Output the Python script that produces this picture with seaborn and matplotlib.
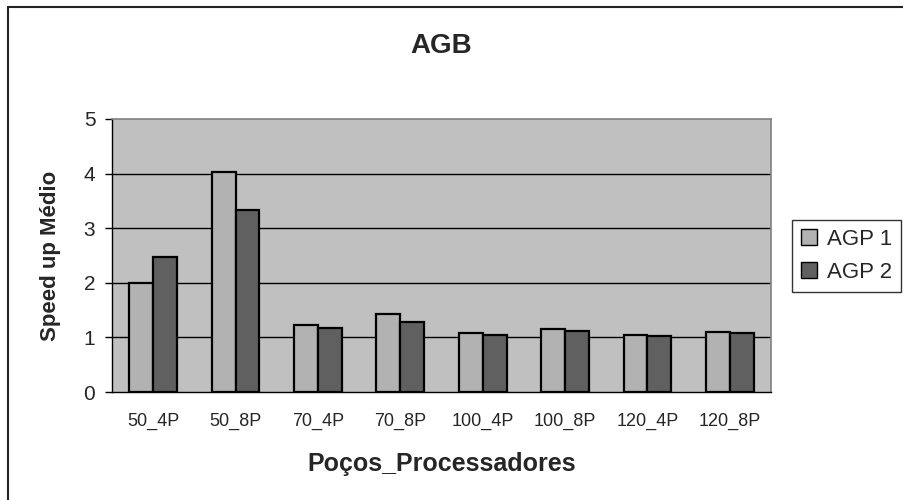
import matplotlib
matplotlib.use("Agg")
import matplotlib.pyplot as plt
from matplotlib.lines import Line2D
import numpy as np
import pandas as pd
import seaborn as sns

categories = ["50_4P", "50_8P", "70_4P", "70_8P", "100_4P", "100_8P", "120_4P", "120_8P"]
agp1 = [1.99, 4.03, 1.23, 1.43, 1.08, 1.15, 1.04, 1.10]
agp2 = [2.48, 3.33, 1.17, 1.29, 1.04, 1.12, 1.02, 1.08]
series_names = ["AGP 1", "AGP 2"]
y_ticks = [0, 1, 2, 3, 4, 5]

df = pd.DataFrame({
    "cat": categories * 2,
    "val": agp1 + agp2,
    "serie": [series_names[0]] * len(categories) + [series_names[1]] * len(categories),
})

sns.set_theme(style="white")
plt.rcParams["font.family"] = ["Liberation Sans", "DejaVu Sans"]

fig = plt.figure(figsize=(9.04, 5.0), dpi=100)
ax = fig.add_axes([112 / 904, 1 - 392 / 500, (771 - 112) / 904, (392 - 119) / 500])
ax.set_facecolor("#c0c0c0")

sns.barplot(data=df, x="cat", y="val", hue="serie", order=categories,
            hue_order=series_names, palette=["#b2b2b2", "#606060"],
            edgecolor="black", linewidth=1.6, width=0.58, gap=0,
            ax=ax, legend=False, zorder=3)

ax.set_xlim(-0.5, len(categories) - 0.5)
ax.set_ylim(0, 5)
ax.set_yticks(y_ticks)
ax.set_yticklabels([str(t) for t in y_ticks], fontsize=15)
for t in y_ticks[1:-1]:
    ax.axhline(t, color="black", lw=1.0, zorder=1)

ax.set_xticks(range(len(categories)))
ax.set_xticklabels(categories, fontsize=13)
ax.set_xticks(np.arange(-0.5, len(categories)), minor=True)
ax.tick_params(axis="x", which="major", length=0, pad=15)
ax.tick_params(axis="x", which="minor", length=5, width=1, color="black", direction="out")
ax.tick_params(axis="y", length=5, width=1, color="black", direction="out", pad=7, left=True)

for side in ["top", "right"]:
    ax.spines[side].set_color("#808080")
    ax.spines[side].set_linewidth(1.2)
for side in ["left", "bottom"]:
    ax.spines[side].set_color("black")
    ax.spines[side].set_linewidth(1.0)

ax.set_xlabel("Poços_Processadores", fontsize=18, fontweight="bold", labelpad=16)
ax.set_ylabel("Speed up Médio", fontsize=16, fontweight="bold", labelpad=16)
fig.text(0.5 * (112 + 771) / 904, 1 - 46 / 500, "AGB", ha="center", va="center",
         fontsize=20, fontweight="bold",
         family=["Liberation Sans Narrow", "Liberation Sans", "DejaVu Sans"])

handles = [plt.Rectangle((0, 0), 1, 1, facecolor=c, edgecolor="black", lw=1.0)
           for c in ["#b2b2b2", "#606060"]]
leg = fig.legend(handles, series_names, loc="upper left",
                 bbox_to_anchor=(792 / 904, 1 - 220 / 500), fontsize=16,
                 frameon=True, fancybox=False, handlelength=0.72, handleheight=0.72,
                 handletextpad=0.45, borderpad=0.4, labelspacing=0.55, borderaxespad=0)
leg.get_frame().set_edgecolor("black")
leg.get_frame().set_linewidth(1.0)

# outer frame lines (left and top)
fig.add_artist(Line2D([8 / 904, 8 / 904], [0, 1 - 7 / 500], transform=fig.transFigure,
                      color="#222222", lw=1.5))
fig.add_artist(Line2D([8 / 904, 1], [1 - 7 / 500, 1 - 7 / 500], transform=fig.transFigure,
                      color="#222222", lw=1.5))

fig.savefig("out.png", dpi=100, facecolor="white")
